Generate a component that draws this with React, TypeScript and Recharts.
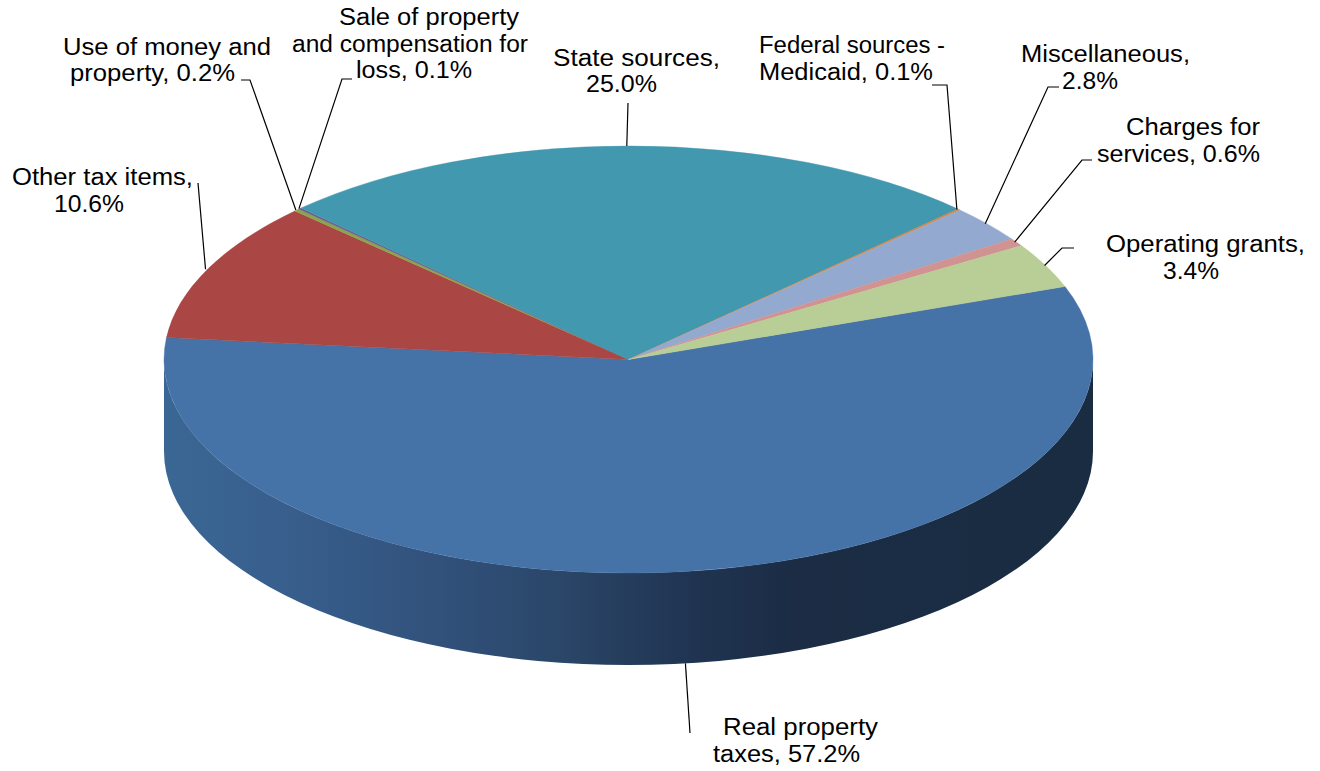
import React from "react";
import { PieChart, Pie } from "recharts";

// Revenue shares, clockwise from the right edge of the largest slice.
const categories = [
  "Real property taxes",
  "Other tax items",
  "Use of money and property",
  "Sale of property and compensation for loss",
  "State sources",
  "Federal sources - Medicaid",
  "Miscellaneous",
  "Charges for services",
  "Operating grants",
];
const shares = [57.2, 10.6, 0.2, 0.1, 25.0, 0.1, 2.8, 0.6, 3.4];
const sliceColors = ["#4572A7", "#AA4643", "#89A54E", "#71588F", "#4198AF", "#DB843D", "#93A9CF", "#D19392", "#B9CD96"];

// Wrapped label text; the value gets appended to the last row.
const labelRows = [
  ["Real property", "taxes,"],
  ["Other tax items,", ""],
  ["Use of money and", "property,"],
  ["Sale of property", "and compensation for", "loss,"],
  ["State sources,", ""],
  ["Federal sources -", "Medicaid,"],
  ["Miscellaneous,", ""],
  ["Charges for", "services,"],
  ["Operating grants,", ""],
];

// Left edge, baseline and stretched width of every label row.
const labelRowX = [
  [723, 713],
  [12, 54],
  [63, 70],
  [339, 292, 356],
  [553, 586],
  [759, 759],
  [1021, 1062],
  [1126, 1097],
  [1106, 1163],
];
const labelRowY = [
  [735, 762],
  [185, 212],
  [55, 81],
  [25, 52, 78],
  [66, 92],
  [53, 80],
  [62, 89],
  [135, 162],
  [252, 279],
];
const labelRowWidth = [
  [155, 147],
  [181, 70],
  [208, 165],
  [180, 236, 116],
  [167, 71],
  [186, 174],
  [169, 56],
  [134, 163],
  [199, 56],
];

// Leader line points near the text; the last leg runs to the slice edge.
const leaderPoints = [
  [[690, 733]],
  [[198, 183]],
  [[241, 80], [250, 80]],
  [[352, 79], [342, 79]],
  [[628, 103]],
  [[932, 85], [947, 85]],
  [[1059, 87], [1048, 87]],
  [[1092, 160], [1082, 160]],
  [[1074, 248], [1062, 248]],
];
// Small horizontal nudge of each leader tip along the rim.
const leaderTipShift = [0, -2, -1, -1, -3, -2, -2, -2, -1];

const CX = 628.5;
const CY = 359.5;
const RX = 464.5;
const RY = 213.5;
const DEPTH = 92;

const wallStops = [
  [0, "#3b6795"],
  [0.15, "#375d8b"],
  [0.31, "#315079"],
  [0.43, "#2a4668"],
  [0.5, "#253c5c"],
  [0.58, "#1f3350"],
  [0.68, "#1b2c44"],
  [1, "#1a2c42"],
];

const tableData = categories.map((name, i) => ({ name, value: shares[i], fill: sliceColors[i] }));

const rad = (deg: number) => (deg * Math.PI) / 180;

// Point on the flattened rim for a math angle in degrees.
function rim(cx: number, cy: number, rx: number, a: number) {
  const ry = (rx * RY) / RX;
  return { x: cx + rx * Math.cos(rad(a)), y: cy - ry * Math.sin(rad(a)), ry };
}

function TopSlice(props: any) {
  const { cx, cy, outerRadius, startAngle, endAngle, fill } = props;
  const a = rim(cx, cy, outerRadius, startAngle);
  const b = rim(cx, cy, outerRadius, endAngle);
  const large = Math.abs(startAngle - endAngle) > 180 ? 1 : 0;
  const d = `M${cx},${cy} L${a.x},${a.y} A${outerRadius},${a.ry} 0 ${large} 1 ${b.x},${b.y} Z`;
  return <path d={d} fill={fill} stroke={fill} strokeWidth={0.4} />;
}

// Only the part of a slice facing the viewer (below the equator) has a wall.
function WallSlice(props: any) {
  const { cx, cy, outerRadius, startAngle, endAngle } = props;
  const hi = Math.min(startAngle, 0);
  const lo = Math.max(endAngle, -180);
  if (lo >= hi) return null;
  const a = rim(cx, cy, outerRadius, hi);
  const b = rim(cx, cy, outerRadius, lo);
  const d =
    `M${a.x},${a.y} L${a.x},${a.y + DEPTH} A${outerRadius},${a.ry} 0 0 1 ${b.x},${b.y + DEPTH} ` +
    `L${b.x},${b.y} A${outerRadius},${a.ry} 0 0 0 ${a.x},${a.y} Z`;
  return <path d={d} fill="url(#wallShade)" />;
}

function SliceLabel(props: any) {
  const { index, cx, cy, outerRadius, midAngle } = props;
  const end = rim(cx, cy, outerRadius, midAngle);
  // the big slice's leader starts at the bottom of the wall
  const endY = midAngle < 0 && midAngle > -180 ? end.y + DEPTH : end.y;
  const pts = [...leaderPoints[index], [end.x + leaderTipShift[index], endY]].map((p) => p.join(",")).join(" ");
  const rows = labelRows[index];
  const valueText = `${shares[index].toFixed(1)}%`;
  return (
    <g>
      <polyline points={pts} fill="none" stroke="#000" strokeWidth={1.2} />
      {rows.map((row, r) => (
        <text
          key={r}
          x={labelRowX[index][r]}
          y={labelRowY[index][r]}
          textLength={labelRowWidth[index][r]}
          lengthAdjust="spacingAndGlyphs"
          fontFamily="'Liberation Sans', Arial, sans-serif"
          fontSize={23.5}
          fill="#000"
        >
          {r === rows.length - 1 ? `${row} ${valueText}`.trim() : row}
        </text>
      ))}
    </g>
  );
}

export default function App() {
  return (
    <div style={{ position: "absolute", left: 0, top: 0, width: 1320, height: 771, background: "#fff" }}>
      <PieChart width={1320} height={771} margin={{ top: 0, right: 0, bottom: 0, left: 0 }}>
        <defs>
          <linearGradient id="wallShade" gradientUnits="userSpaceOnUse" x1={CX - RX} y1={0} x2={CX + RX} y2={0}>
            {wallStops.map(([offset, color]) => (
              <stop key={offset as number} offset={offset as number} stopColor={color as string} />
            ))}
          </linearGradient>
        </defs>
        <Pie
          data={tableData}
          dataKey="value"
          nameKey="name"
          cx={CX}
          cy={CY}
          innerRadius={0}
          outerRadius={RX}
          startAngle={20}
          endAngle={-340}
          stroke="none"
          shape={WallSlice}
          inactiveShape={WallSlice}
          label={false}
          labelLine={false}
          isAnimationActive={false}
        />
        <Pie
          data={tableData}
          dataKey="value"
          nameKey="name"
          cx={CX}
          cy={CY}
          innerRadius={0}
          outerRadius={RX}
          startAngle={20}
          endAngle={-340}
          stroke="none"
          shape={TopSlice}
          inactiveShape={TopSlice}
          label={SliceLabel}
          labelLine={false}
          isAnimationActive={false}
        />
      </PieChart>
    </div>
  );
}
